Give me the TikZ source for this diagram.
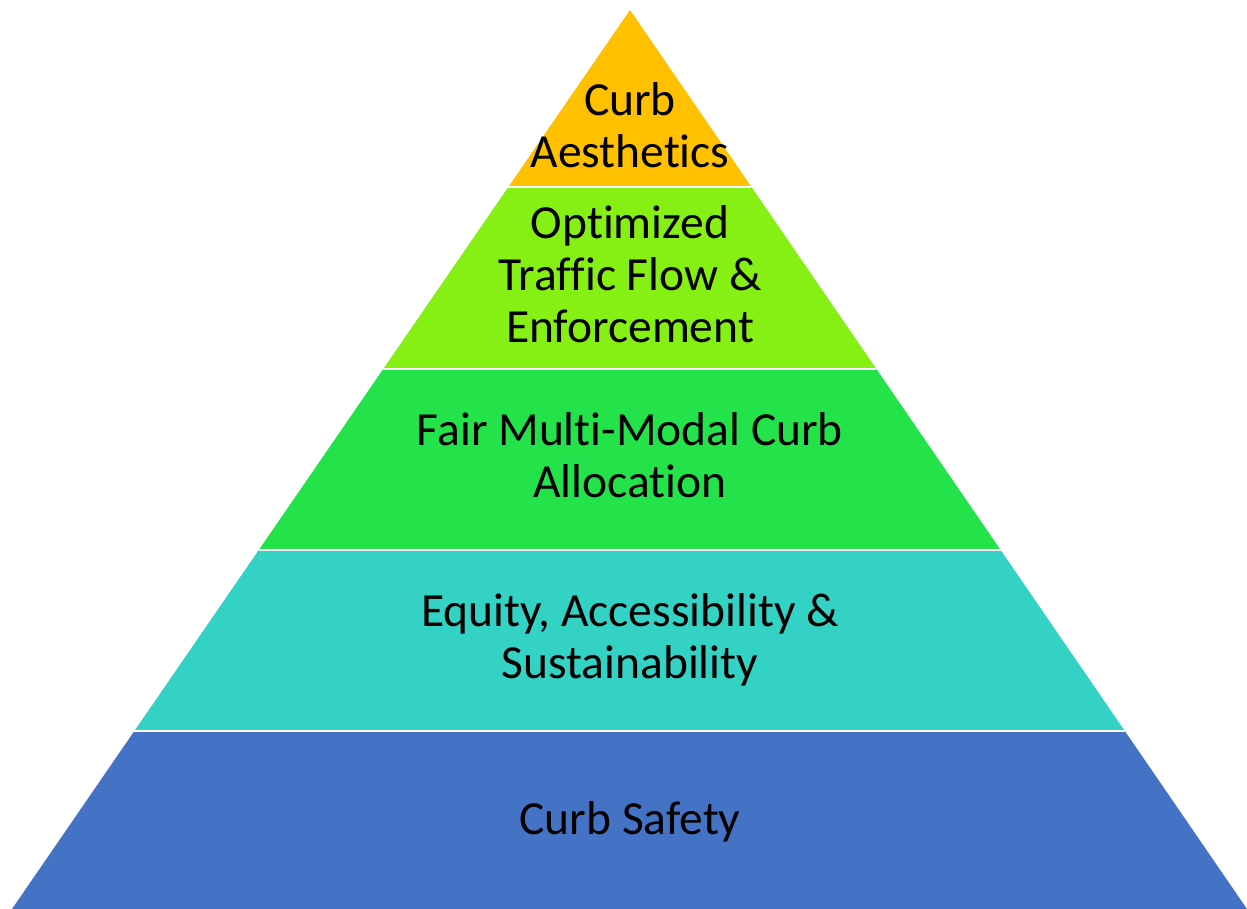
\documentclass[tikz,border=0pt]{standalone}
\usepackage{fontspec}
\setmainfont[Ligatures=NoCommon]{Carlito}
\usetikzlibrary{calc}
\definecolor{tierA}{HTML}{FFC000}
\definecolor{tierB}{HTML}{86EF14}
\definecolor{tierC}{HTML}{24E24A}
\definecolor{tierD}{HTML}{33D2C4}
\definecolor{tierE}{HTML}{4472C4}
\begin{document}
\begin{tikzpicture}[x=1pt,y=-1pt,
  tiertext/.style={font=\fontsize{47.5}{52}\selectfont, align=center, anchor=base, inner sep=0pt, text=black},
  gap/.style={draw=white, line width=2pt}]
\useasboundingbox[fill=white] (0,0) rectangle (1247,909);
% outline of the pyramid
\coordinate (apex) at (630,10);
\coordinate (bl) at (12,909);
\coordinate (br) at (1247,909);
% tier boundaries along the two slanted sides
\foreach \t [count=\i] in {0.19689,0.39933,0.60067,0.80200} {
  \coordinate (l\i) at ($(apex)!\t!(bl)$);
  \coordinate (r\i) at ($(apex)!\t!(br)$);
}
% tiers
\fill[tierA] (apex) -- (r1) -- (l1) -- cycle;
\fill[tierB] (l1) -- (r1) -- (r2) -- (l2) -- cycle;
\fill[tierC] (l2) -- (r2) -- (r3) -- (l3) -- cycle;
\fill[tierD] (l3) -- (r3) -- (r4) -- (l4) -- cycle;
\fill[tierE] (l4) -- (r4) -- (br) -- (bl) -- cycle;
% thin white gaps between tiers
\foreach \i in {1,...,4} \draw[gap] (l\i) -- (r\i);
% tier labels (placed by the baseline of their last line)
\node[tiertext] (t1) at (630,168) {Curb\\Aesthetics};
\node[tiertext] (t2) at (630,342) {Optimized\\Traffic Flow \&\\Enforcement};
\node[tiertext] (t3) at (630,497) {Fair Multi-Modal Curb\\Allocation};
\node[tiertext] (t4) at (630,678) {Equity, Accessibility \&\\Sustainability};
\node[tiertext] (t5) at (630,834) {Curb Safety};
\end{tikzpicture}
\end{document}
